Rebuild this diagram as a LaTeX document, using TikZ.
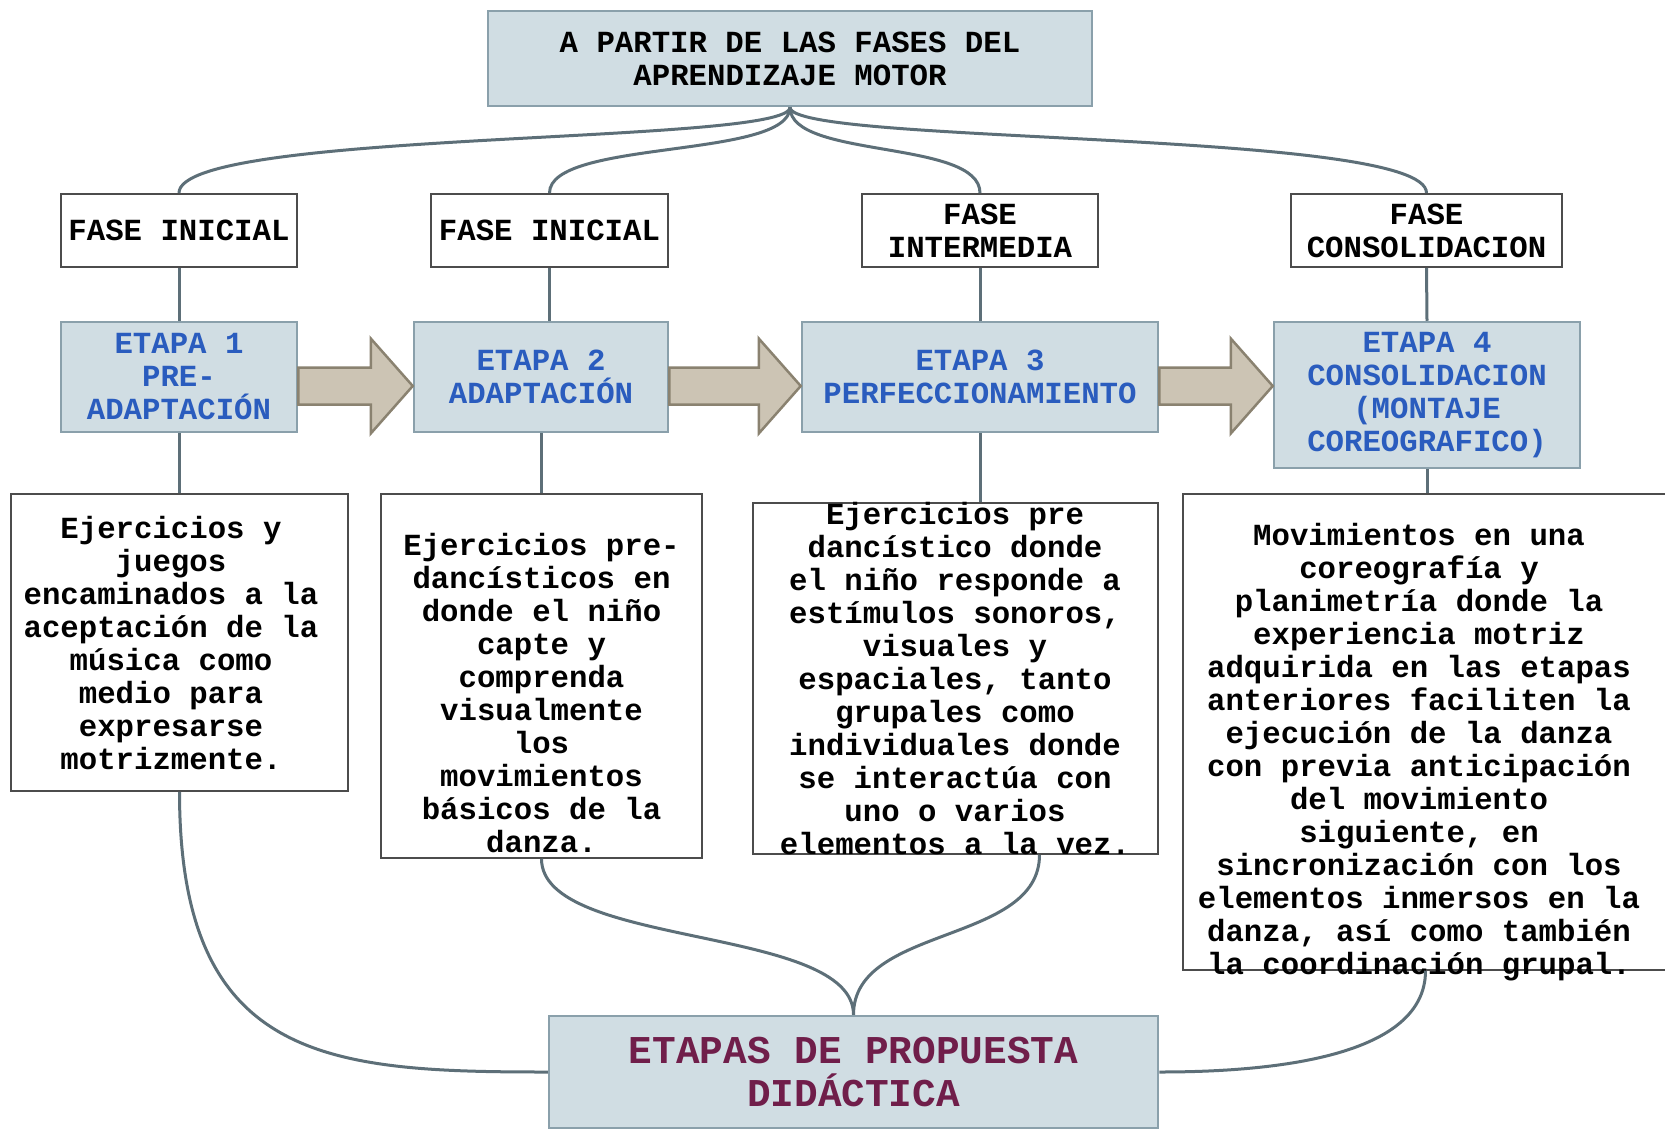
\documentclass[tikz,border=0pt]{standalone}
\usepackage{fontspec}
\newfontfamily\courfont{Liberation Mono}
\usetikzlibrary{calc}

\definecolor{boxfill}{RGB}{208,221,227}
\definecolor{boxedge}{RGB}{138,160,171}
\definecolor{linkcol}{RGB}{93,111,120}
\definecolor{arrowfill}{RGB}{204,196,180}
\definecolor{arrowedge}{RGB}{138,130,112}
\definecolor{etapablue}{RGB}{42,92,190}
\definecolor{titlewine}{RGB}{112,30,74}

% block arrow from #1 to #2 (same height)
\newcommand{\etaparrow}[2]{%
  \draw[bigarrow] ($(#1)+(0,-18.5)$) -- ($(#2)+(-42,-18.5)$) -- ($(#2)+(-42,-47.5)$)
    -- (#2) -- ($(#2)+(-42,47.5)$) -- ($(#2)+(-42,18.5)$) -- ($(#1)+(0,18.5)$) -- cycle;}

\begin{document}
\begin{tikzpicture}[x=1pt, y=-1pt,
  every node/.style={font=\courfont\bfseries\fontsize{30.7}{33}\selectfont, align=center, inner sep=0pt},
  bluebox/.style={draw=boxedge, fill=boxfill, line width=2.5pt},
  etapabox/.style={bluebox, text=etapablue, minimum height=110pt},
  fasebox/.style={draw=black!70, fill=white, line width=2pt, minimum height=73pt},
  textbox/.style={draw=black!70, fill=white, line width=1.5pt},
  link/.style={draw=linkcol, line width=3pt},
  bigarrow/.style={draw=arrowedge, fill=arrowfill, line width=2.5pt, line join=miter}]

  \useasboundingbox[fill=white] (0,0) rectangle (1665,1130);

  \node[bluebox, minimum width=604pt, minimum height=95pt] (top) at (790,58.5)
    {A PARTIR DE LAS FASES DEL\\APRENDIZAJE MOTOR};
  \coordinate (hub) at (top.south);

  % fases
  \node[fasebox, minimum width=236pt] (f1) at (179,230.5) {FASE INICIAL};
  \node[fasebox, minimum width=237pt] (f2) at (549.5,230.5) {FASE INICIAL};
  \node[fasebox, minimum width=236pt] (f3) at (980,230.5) {FASE\\INTERMEDIA};
  \node[fasebox, minimum width=271pt] (f4) at (1426.5,230.5) {FASE\\CONSOLIDACION};

  % etapas
  \node[etapabox, minimum width=236pt] (e1) at (179,377) {ETAPA 1\\PRE-\\ADAPTACIÓN};
  \node[etapabox, minimum width=254pt] (e2) at (541,377) {ETAPA 2\\ADAPTACIÓN};
  \node[etapabox, minimum width=356pt] (e3) at (980,377) {ETAPA 3\\PERFECCIONAMIENTO};
  \node[etapabox, minimum width=306pt, minimum height=146pt] (e4) at (1427,395)
    {ETAPA 4\\CONSOLIDACION\\(MONTAJE\\COREOGRAFICO)};

  \coordinate (arrowrow) at (0,386);
  \coordinate (a1s) at (e1.east |- arrowrow);
  \coordinate (a1e) at (e2.west |- arrowrow);
  \coordinate (a2s) at (e2.east |- arrowrow);
  \coordinate (a2e) at (e3.west |- arrowrow);
  \coordinate (a3s) at (e3.east |- arrowrow);
  \coordinate (a3e) at (e4.west |- arrowrow);
  \etaparrow{a1s}{a1e}
  \etaparrow{a2s}{a2e}
  \etaparrow{a3s}{a3e}

  % descripciones
  \node[textbox, minimum width=337pt, minimum height=297pt] (t1) at (179.5,642.5) {};
  \node[textbox, minimum width=321pt, minimum height=364pt] (t2) at (541.5,676) {};
  \node[textbox, minimum width=405pt, minimum height=351pt] (t3) at (955.5,678.5) {};
  \node[textbox, minimum width=485pt, minimum height=476pt] (t4) at (1425.5,732) {};

  \node (t1txt) at (171,643) {Ejercicios y\\juegos\\encaminados a la\\aceptación de la\\música como\\medio para\\expresarse\\motrizmente.};
  \node (t2txt) at (541.5,693) {Ejercicios pre-\\dancísticos en\\donde el niño\\capte y\\comprenda\\visualmente\\los\\movimientos\\básicos de la\\danza.};
  \node (t3txt) at (955,679) {Ejercicios pre\\dancístico donde\\el niño responde a\\estímulos sonoros,\\visuales y\\espaciales, tanto\\grupales como\\individuales donde\\se interactúa con\\uno o varios\\elementos a la vez.};
  \node (t4txt) at (1419,752) {Movimientos en una\\coreografía y\\planimetría donde la\\experiencia motriz\\adquirida en las etapas\\anteriores faciliten la\\ejecución de la danza\\con previa anticipación\\del movimiento\\siguiente, en\\sincronización con los\\elementos inmersos en la\\danza, así como también\\la coordinación grupal.};

  \node[bluebox, minimum width=609pt, minimum height=112pt, text=titlewine,
    font=\courfont\bfseries\fontsize{39.4}{42.5}\selectfont] (final) at (853.5,1072)
    {ETAPAS DE PROPUESTA\\DIDÁCTICA};

  % ramas superiores
  \draw[link] (hub) .. controls +(0,38) and +(0,-64) .. (f1.north);
  \draw[link] (hub) .. controls +(0,52) and +(0,-54) .. (f2.north);
  \draw[link] (hub) .. controls +(0,52) and +(0,-54) .. (f3.north);
  \draw[link] (hub) .. controls +(0,38) and +(0,-64) .. (f4.north);

  \draw[link] (f1.south) -- (e1.north);
  \draw[link] (f2.south) -- (f2.south |- e2.north);
  \draw[link] (f3.south) -- (e3.north);
  \draw[link] (f4.south) -- (e4.north);

  \draw[link] (e1.south) -- (e1.south |- t1.north);
  \draw[link] (e2.south) -- (e2.south |- t2.north);
  \draw[link] (e3.south) -- (e3.south |- t3.north);
  \draw[link] (e4.south) -- (e4.south |- t4.north);

  % ramas inferiores
  \coordinate (t3out) at ($(t3.south)+(84,0)$);
  \draw[link] (t1.south) .. controls +(0,270) and +(-220,0) .. (final.west);
  \draw[link] (t2.south) .. controls +(0,90) and +(0,-90) .. (final.north);
  \draw[link] (t3out) .. controls +(0,90) and +(0,-90) .. (final.north);
  \draw[link] (t4.south) .. controls +(0,90) and +(100,0) .. (final.east);
\end{tikzpicture}
\end{document}
